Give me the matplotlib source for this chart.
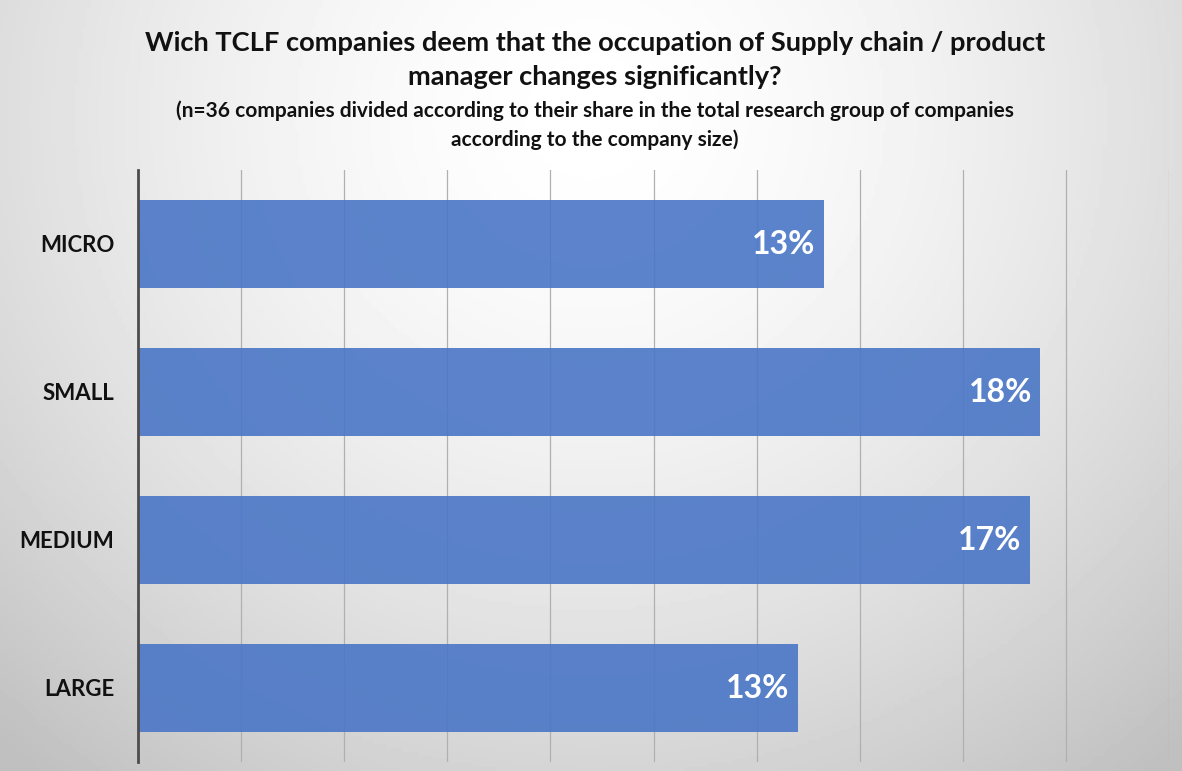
import numpy as np
import matplotlib.pyplot as plt

categories = ["MICRO", "SMALL", "MEDIUM", "LARGE"]
shares = [0.133, 0.175, 0.173, 0.128]
labels = ["13%", "18%", "17%", "13%"]

plt.rcParams['font.family'] = ['Lato', 'DejaVu Sans']

fig = plt.figure(figsize=(11.82, 7.71), dpi=100)

# background gradient (light in the middle, gray at the edges)
bg = fig.add_axes([0, 0, 1, 1], zorder=-10)
yy, xx = np.mgrid[0:1:200j, 0:1:300j]
r = np.sqrt(((xx - 0.5) / 0.75) ** 2 + ((yy - 0.15) / 1.1) ** 2)
grad = 1.0 - 0.25 * np.clip(r, 0, 1) ** 1.6
bg.imshow(grad, cmap='gray', vmin=0, vmax=1, aspect='auto', extent=[0, 1, 1, 0])
bg.axis('off')

ax = fig.add_axes([138 / 1182, 1 - 762 / 771, (1169 - 138) / 1182, (762 - 170) / 771])
ax.patch.set_alpha(0)

y = np.arange(len(categories))
ax.barh(y, shares, height=0.6, color='#4a76c6', alpha=0.9, zorder=3)
ax.set_ylim(len(categories) - 0.5, -0.5)
ax.set_xlim(0, 0.2)
ax.set_xticks(np.arange(0, 0.201, 0.02))
ax.tick_params(axis='x', length=0, labelbottom=False)
ax.tick_params(axis='y', length=0, pad=17)
ax.set_yticks(y)
ax.set_yticklabels(categories, fontsize=16, fontweight='bold', color='#111111')
ax.grid(axis='x', color='#b0b0b0', linewidth=0.9, zorder=1)
for s in ['top', 'right', 'bottom']:
    ax.spines[s].set_visible(False)
ax.spines['left'].set_color('#4d4d4d')
ax.spines['left'].set_linewidth(2)
ax.spines['left'].set_zorder(4)

for yi, v, lab in zip(y, shares, labels):
    ax.text(v - 0.0016, yi, lab, ha='right', va='center', color='white',
            fontsize=23, fontweight='bold', zorder=5)

cx = 595 / 1182
fig.text(cx, 1 - 43 / 771, "Wich TCLF companies deem that the occupation of Supply chain / product",
         ha='center', va='center', fontsize=19.6, fontweight='bold', color='#111111')
fig.text(cx, 1 - 77 / 771, "manager changes significantly?",
         ha='center', va='center', fontsize=19.6, fontweight='bold', color='#111111')
fig.text(cx, 1 - 111 / 771, "(n=36 companies divided according to their share in the total research group of companies",
         ha='center', va='center', fontsize=15, fontweight='bold', color='#111111')
fig.text(cx, 1 - 140 / 771, "according to the company size)",
         ha='center', va='center', fontsize=15, fontweight='bold', color='#111111')

fig.savefig("out.png", dpi=100)
